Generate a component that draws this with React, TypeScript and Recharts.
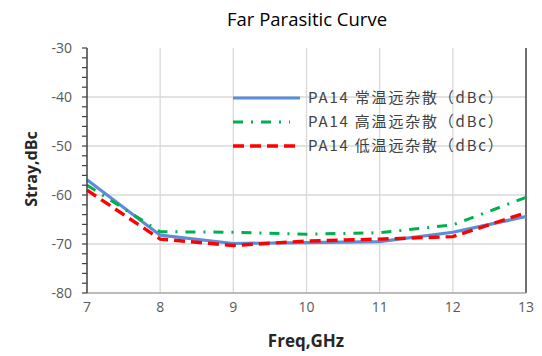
import React from 'react';
import { LineChart, Line, XAxis, YAxis, ReferenceLine } from 'recharts';

const freqs = [7, 8, 9, 10, 11, 12, 13];
const normalTemp = [-56.9, -68.2, -69.9, -69.7, -69.5, -67.6, -64.4];
const highTemp = [-58.0, -67.5, -67.6, -68.0, -67.7, -66.1, -60.5];
const lowTemp = [-59.0, -69.0, -70.3, -69.4, -69.0, -68.5, -63.6];

const xTicks = [7, 8, 9, 10, 11, 12, 13];
const xGrid = [8, 9, 10, 11, 12];
const xMinorTicks = [7.5, 8.5, 9.5, 10.5, 11.5, 12.5];
const yTicks = [-80, -78, -76, -74, -72, -70, -68, -66, -64, -62, -60, -58, -56, -54, -52, -50, -48, -46, -44, -42, -40, -38, -36, -34, -32, -30];
const yGrid = [-40, -50, -60, -70];

const seriesNames = ['PA14 常温远杂散（dBc）', 'PA14 高温远杂散（dBc）', 'PA14 低温远杂散（dBc）'];

const data = freqs.map((f, i) => ({
  f,
  normal: normalTemp[i],
  high: highTemp[i],
  low: lowTemp[i],
}));

const series = [
  { key: 'normal', name: seriesNames[0], color: '#5B8ED8', width: 3.2, dash: undefined as string | undefined, legendLen: 67 },
  { key: 'high', name: seriesNames[1], color: '#00B050', width: 3, dash: '10 8 2 8', legendLen: 57 },
  { key: 'low', name: seriesNames[2], color: '#FF0000', width: 3.4, dash: '11 6', legendLen: 65 },
];

const FONT = "'Open Sans', 'Liberation Sans', sans-serif";

const YTick = (props: any) => {
  const { x, y, payload } = props;
  if (payload.value % 10 !== 0) return null;
  return (
    <text x={x} y={y} dy={5} textAnchor="end" fill="#595959" fontSize={14} fontFamily={FONT}>
      {payload.value}
    </text>
  );
};

export default function App() {
  return (
    <div style={{ position: 'absolute', left: 0, top: 0, width: 542, height: 356, background: '#fff' }}>
      <LineChart width={542} height={356} data={data} margin={{ top: 48, right: 16, bottom: 33, left: 0 }} style={{ position: 'absolute', left: 0, top: 0 }}>
        {xGrid.map((v) => (
          <ReferenceLine key={'x' + v} x={v} stroke="#D9D9D9" strokeWidth={1.3} />
        ))}
        {yGrid.map((v) => (
          <ReferenceLine key={'y' + v} y={v} stroke="#D9D9D9" strokeWidth={1.3} />
        ))}
        <XAxis
          dataKey="f"
          type="number"
          domain={[7, 13]}
          ticks={xTicks}
          height={30}
          tickLine={false}
          axisLine={{ stroke: '#A6A6A6', strokeWidth: 1.3 }}
          tick={{ fill: '#595959', fontSize: 14, fontFamily: FONT }}
          tickMargin={3}
        />
        <XAxis
          xAxisId="top"
          orientation="top"
          dataKey="f"
          type="number"
          domain={[7, 13]}
          ticks={xMinorTicks}
          mirror
          height={0}
          tick={false}
          tickSize={4}
          tickLine={{ stroke: '#404040', strokeWidth: 1.3 }}
          axisLine={{ stroke: '#404040', strokeWidth: 1.5 }}
        />
        <YAxis
          type="number"
          domain={[-80, -30]}
          ticks={yTicks}
          width={87}
          interval={0}
          tickSize={5}
          tickMargin={10}
          tickLine={{ stroke: '#404040', strokeWidth: 1.2 }}
          axisLine={{ stroke: '#404040', strokeWidth: 1.5 }}
          tick={<YTick />}
        />
        <ReferenceLine x={13} stroke="#404040" strokeWidth={1.5} />
        {series.map((s) => (
          <Line
            key={s.key}
            type="linear"
            dataKey={s.key}
            name={s.name}
            stroke={s.color}
            strokeWidth={s.width}
            strokeDasharray={s.dash}
            dot={false}
            activeDot={false}
            isAnimationActive={false}
          />
        ))}
      </LineChart>
      <svg width={310} height={72} style={{ position: 'absolute', left: 228, top: 86 }}>
        {series.map((s, i) => (
          <g key={s.key}>
            <line x1={5} x2={5 + s.legendLen} y1={12 + i * 24} y2={12 + i * 24} stroke={s.color} strokeWidth={s.width} strokeDasharray={s.dash} />
            <text x={80} y={12 + i * 24} dy={5} fontSize={15} fill="#404040" fontFamily="'Noto Sans CJK SC', sans-serif" letterSpacing={1.8}>
              {s.name}
            </text>
          </g>
        ))}
      </svg>
      <div style={{ position: 'absolute', left: 207, top: 6, width: 200, textAlign: 'center', fontSize: 18.5, fontFamily: FONT, color: '#000', whiteSpace: 'nowrap' }}>
        Far Parasitic Curve
      </div>
      <div style={{ position: 'absolute', left: 206, top: 329, width: 200, textAlign: 'center', fontSize: 17, fontWeight: 'bold', fontFamily: FONT, color: '#262626' }}>
        Freq,GHz
      </div>
      <div style={{ position: 'absolute', left: 31, top: 170, width: 0, height: 0 }}>
        <div style={{ position: 'absolute', left: -70, top: -12, width: 140, textAlign: 'center', transform: 'rotate(-90deg)', fontSize: 16, fontWeight: 'bold', fontFamily: FONT, color: '#262626', whiteSpace: 'nowrap' }}>
          Stray,dBc
        </div>
      </div>
    </div>
  );
}
